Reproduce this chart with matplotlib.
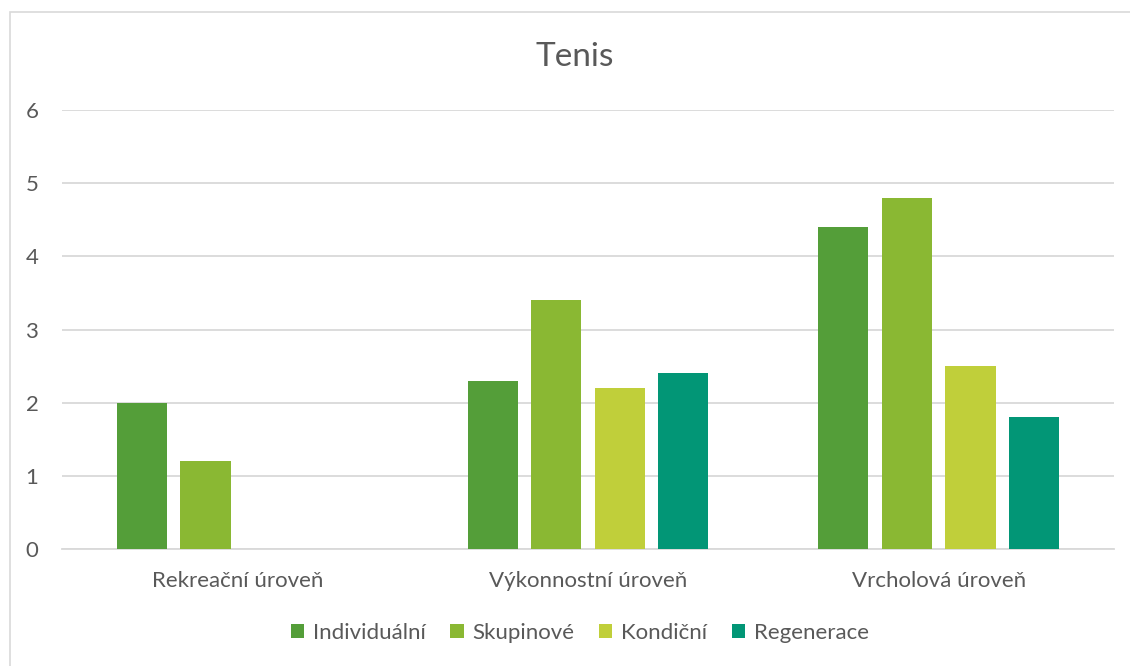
import numpy as np
import matplotlib.pyplot as plt
from matplotlib.patches import Rectangle

plt.rcParams['font.family'] = ['Lato', 'DejaVu Sans']

# data
categories = ['Rekreační úroveň', 'Výkonnostní úroveň', 'Vrcholová úroveň']
series_names = ['Individuální', 'Skupinové', 'Kondiční', 'Regenerace']
individualni = [2.0, 2.3, 4.4]
skupinove = [1.2, 3.4, 4.8]
kondicni = [0.0, 2.2, 2.5]
regenerace = [0.0, 2.4, 1.8]
colors = ['#549e39', '#8ab833', '#c0cf3a', '#029676']

text_color = '#595959'
W, H = 1130, 666

fig = plt.figure(figsize=(W / 100, H / 100), dpi=100)
# chart frame (only left and top edges fall inside the image)
fig.patches.append(Rectangle((10 / W, -0.2), 1.2, (H - 12) / H + 0.2, transform=fig.transFigure,
                             fill=False, edgecolor='#d9d9d9', lw=1.2))

ax = fig.add_axes([62 / W, (H - 549) / H, (1114 - 62) / W, (549 - 110) / H])

x = np.arange(len(categories))
bar_w = 50 / 350
step = 63.5 / 350
all_series = [individualni, skupinove, kondicni, regenerace]
for i, (vals, name, c) in enumerate(zip(all_series, series_names, colors)):
    ax.bar(x + (i - 1.5) * step, vals, width=bar_w, color=c, label=name, zorder=3)

ax.set_xlim(-0.5, 2.5)
ax.set_ylim(0, 6)
ax.set_yticks(range(0, 7))
ax.grid(axis='y', color='#d9d9d9', lw=1.3, zorder=0)
for s in ['top', 'right', 'left']:
    ax.spines[s].set_visible(False)
ax.spines['bottom'].set_color('#d9d9d9')
ax.spines['bottom'].set_linewidth(1.3)
ax.tick_params(axis='both', length=0, colors=text_color, labelsize=16)
ax.tick_params(axis='y', pad=17)
ax.tick_params(axis='x', pad=16)
ax.set_xticks(x)
ax.set_xticklabels(categories)

fig.text(575 / W, 1 - 57 / H, 'Tenis', ha='center', va='center', fontsize=24, color=text_color)

leg = fig.legend(loc='center', bbox_to_anchor=(580 / W, 1 - 633 / H), ncol=4, frameon=False,
                 fontsize=16, handlelength=0.6, handleheight=0.6, handletextpad=0.4,
                 columnspacing=1.1, labelcolor=text_color)

fig.savefig('out.png', dpi=100)
